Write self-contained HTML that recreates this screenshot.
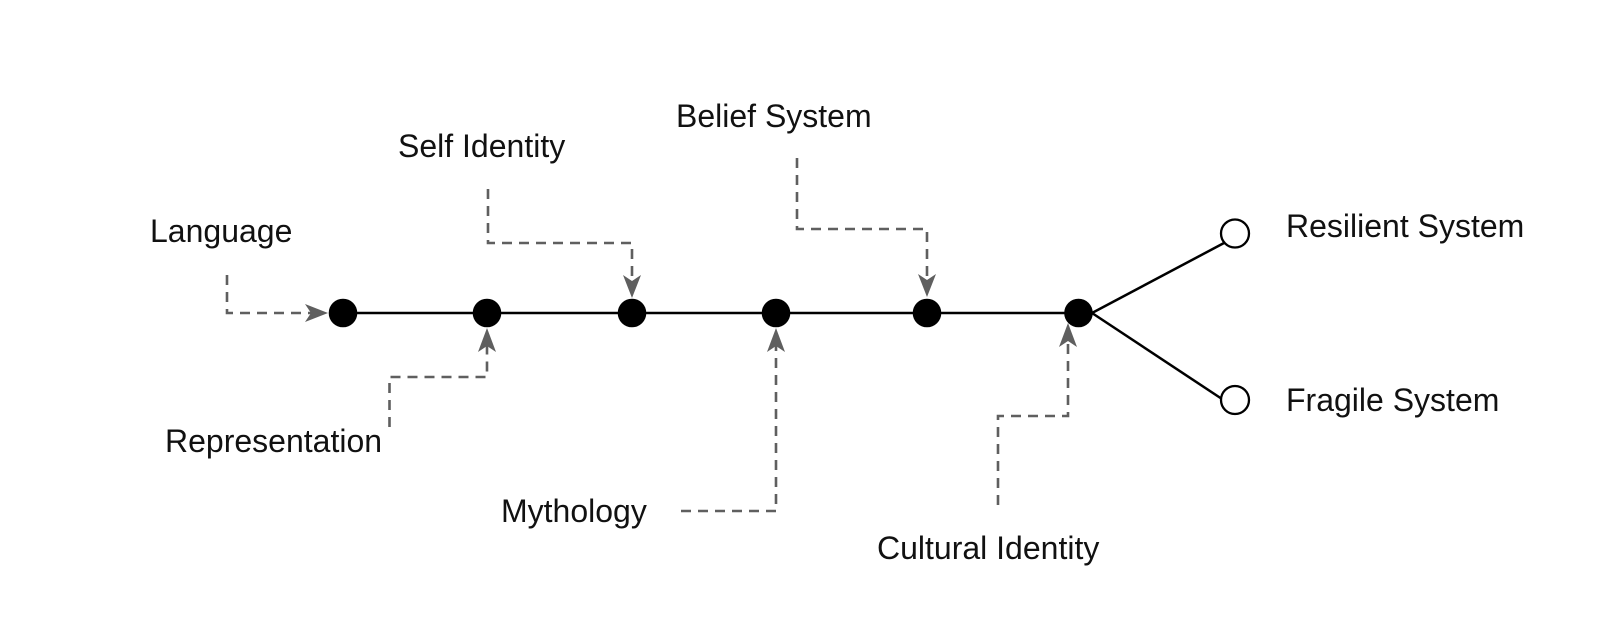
<!DOCTYPE html>
<html>
<head>
<meta charset="utf-8">
<style>
html,body{margin:0;padding:0;background:#fff;width:1600px;height:634px;overflow:hidden}
svg{display:block}
text{font-family:"Liberation Sans",Arial,sans-serif;font-size:32px;fill:#111}
</style>
</head>
<body>
<svg width="1600" height="634" viewBox="0 0 1600 634" xmlns="http://www.w3.org/2000/svg">
<rect width="1600" height="634" fill="#fff"/>
<g fill="none" stroke="#000" stroke-width="2.5">
<line x1="343" y1="313" x2="1079" y2="313"/>
<line x1="1092" y1="313" x2="1224" y2="243"/>
<line x1="1092" y1="313" x2="1222" y2="399"/>
</g>
<g fill="#000">
<circle cx="343" cy="313" r="14.3"/>
<circle cx="487" cy="313" r="14.3"/>
<circle cx="632" cy="313" r="14.3"/>
<circle cx="776" cy="313" r="14.3"/>
<circle cx="927" cy="313" r="14.3"/>
<circle cx="1078.500" cy="313" r="14.3"/>
</g>
<g fill="#fff" stroke="#000" stroke-width="2.3">
<circle cx="1235" cy="233.500" r="14"/>
<circle cx="1235" cy="400" r="14"/>
</g>
<g fill="none" stroke="#5f5f5f" stroke-width="2.600" stroke-dasharray="10 7">
<path d="M227 275V313H312"/>
<path d="M389.500 427V377H487V336"/>
<path d="M488 189V243H632V282"/>
<path d="M797 158V229H927V281"/>
<path d="M681 511H776V336"/>
<path d="M998 505V416H1068V331"/>
</g>
<g fill="#5f5f5f">
<path d="M328 313L305 304L311 313L305 322Z"/>
<path d="M487 328L478 352L487 346L496 352Z"/>
<path d="M632 298L623 275L632 281L641 275Z"/>
<path d="M927 297L918 274L927 280L936 274Z"/>
<path d="M776 328L767 352L776 346L785 352Z"/>
<path d="M1068 323L1059 347L1068 341L1077 347Z"/>
</g>
<text x="150" y="242">Language</text>
<text x="165" y="452">Representation</text>
<text x="398" y="157">Self Identity</text>
<text x="501" y="522">Mythology</text>
<text x="676" y="127">Belief System</text>
<text x="877" y="559">Cultural Identity</text>
<text x="1286" y="237">Resilient System</text>
<text x="1286" y="411">Fragile System</text>
</svg>
</body>
</html>
